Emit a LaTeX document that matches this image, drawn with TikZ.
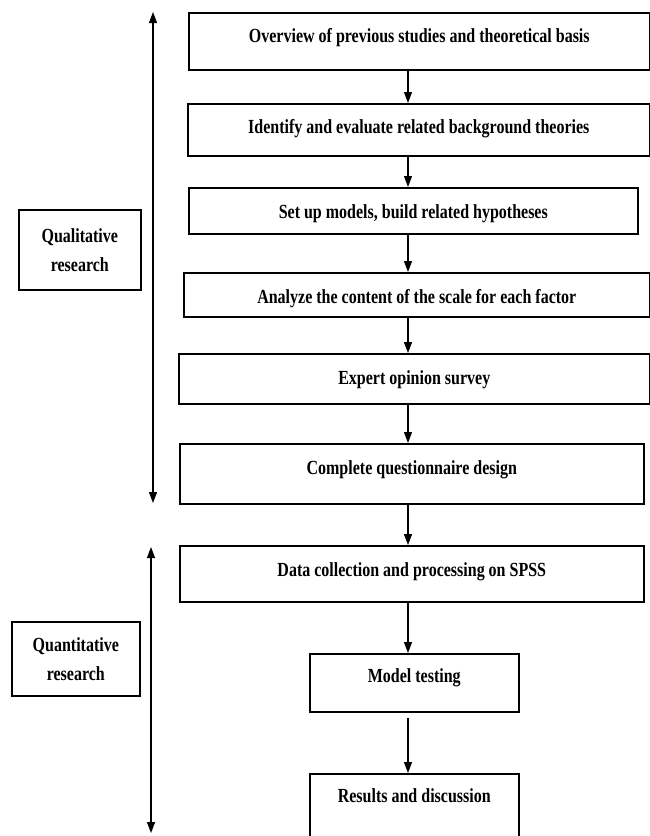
\documentclass[tikz,border=0pt]{standalone}
\usepackage{fontspec}
\setmainfont{Liberation Serif}[FakeStretch=0.8]
\usetikzlibrary{arrows.meta,positioning}

\begin{document}
\begin{tikzpicture}[
    x=1pt,y=-1pt,
    font=\bfseries\fontsize{20}{29}\selectfont,
    stage/.style={draw,line width=1.6pt,inner xsep=0pt,inner ysep=0pt,anchor=north west},
    phase/.style={draw,line width=1.6pt,inner sep=0pt,anchor=north west,align=center},
    flow/.style={-{Triangle[length=11pt,width=8pt]},line width=1.2pt},
    span/.style={{Triangle[length=11pt,width=8pt]}-{Triangle[length=11pt,width=8pt]},line width=1.2pt},
  ]
\useasboundingbox (0,0) rectangle (650,836);
\clip (0,0) rectangle (650,836);

% ======================= stages of the process =======================
\node[stage,minimum width=461pt,text height=30pt,text depth=27pt] (overview) at (188,12)
  {Overview of previous studies and theoretical basis};
\node[stage,minimum width=462pt,text height=30pt,text depth=22pt] (identify) at (187,103)
  {Identify and evaluate related background theories};
\node[stage,minimum width=449pt,text height=31pt,text depth=15pt] (models) at (188,187)
  {Set up models, build related hypotheses};
\node[stage,minimum width=466pt,text height=31pt,text depth=13pt] (scale) at (183,272)
  {Analyze the content of the scale for each factor};
\node[stage,minimum width=471pt,text height=31pt,text depth=19pt] (expert) at (178,353)
  {Expert opinion survey};
\node[stage,minimum width=464pt,text height=31pt,text depth=29pt] (design) at (179,443)
  {Complete questionnaire design};
\node[stage,minimum width=464pt,text height=31pt,text depth=25pt] (data) at (179,545)
  {Data collection and processing on SPSS};
\node[stage,minimum width=209pt,text height=29pt,text depth=29pt] (testing) at (309,653)
  {Model testing};
\node[stage,minimum width=209pt,text height=29pt,text depth=60pt] (results) at (309,773)
  {Results and discussion};

% flow line position
\coordinate (fx) at (408,0);
\draw[flow] (overview.south -| fx) -- (identify.north -| fx);
\draw[flow] (identify.south -| fx) -- (models.north -| fx);
\draw[flow] (models.south -| fx) -- (scale.north -| fx);
\draw[flow] (scale.south -| fx) -- (expert.north -| fx);
\draw[flow] (expert.south -| fx) -- (design.north -| fx);
\draw[flow] (design.south -| fx) -- (data.north -| fx);
\draw[flow] (data.south -| fx) -- (testing.north -| fx);
\draw[flow,shorten <=5pt] (testing.south -| fx) -- (results.north -| fx);

% ======================= research phases =======================
\node[phase,minimum width=122pt,minimum height=80pt] (qual) at (18,209)
  {Qualitative\\research};
\node[phase,minimum width=128pt,minimum height=74pt] (quant) at (11,621)
  {Quantitative\\research};

\coordinate (qualtop) at (153,12);
\coordinate (qualbot) at (153,503);
\coordinate (quanttop) at (151,547);
\coordinate (quantbot) at (151,833);
\draw[span] (qualtop) -- (qualbot);
\draw[span] (quanttop) -- (quantbot);

\end{tikzpicture}
\end{document}
